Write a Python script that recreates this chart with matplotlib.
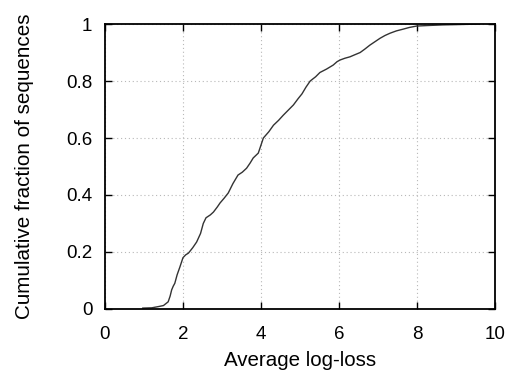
import matplotlib
matplotlib.use("Agg")
import matplotlib.pyplot as plt

plt.rcParams['font.family'] = ['Liberation Sans', 'DejaVu Sans']

loss = [0.97, 1.20, 1.36, 1.50, 1.62, 1.67, 1.71, 1.75, 1.79, 1.85, 1.92, 2.00, 2.07, 2.14, 2.25,
        2.35, 2.45, 2.52, 2.59, 2.70, 2.78, 2.88, 2.95, 3.05, 3.16, 3.28, 3.41, 3.52, 3.63,
        3.72, 3.80, 3.93, 4.06, 4.20, 4.32, 4.45, 4.57, 4.70, 4.83, 4.95, 5.05, 5.15, 5.26,
        5.40, 5.51, 5.68, 5.85, 5.95, 6.03, 6.15, 6.28, 6.40, 6.54, 6.66, 6.79, 6.92, 7.05,
        7.18, 7.31, 7.47, 7.64, 7.80, 7.99, 8.30, 8.67, 9.00, 9.30, 9.60]
frac = [0.003, 0.004, 0.008, 0.012, 0.025, 0.045, 0.067, 0.080, 0.090, 0.120, 0.147, 0.180, 0.190,
        0.196, 0.215, 0.235, 0.265, 0.300, 0.320, 0.330, 0.340, 0.358, 0.372, 0.388, 0.407,
        0.440, 0.470, 0.480, 0.494, 0.512, 0.530, 0.547, 0.600, 0.622, 0.645, 0.662, 0.680,
        0.698, 0.716, 0.738, 0.755, 0.778, 0.800, 0.815, 0.830, 0.842, 0.856, 0.868, 0.874,
        0.880, 0.885, 0.892, 0.900, 0.912, 0.926, 0.938, 0.950, 0.960, 0.968, 0.976, 0.982,
        0.988, 0.993, 0.995, 0.997, 0.998, 0.999, 1.000]

xticks = [0, 2, 4, 6, 8, 10]
yticks = [0, 0.2, 0.4, 0.6, 0.8, 1]
ytick_labels = ['0', '0.2', '0.4', '0.6', '0.8', '1']

fig = plt.figure(figsize=(5.12, 3.7), dpi=100)
ax = fig.add_axes([0.205, 0.165, 0.762, 0.770])

ax.plot(loss, frac, color='#333333', linewidth=1.0)

ax.set_xlim(0, 10)
ax.set_ylim(0, 1)
ax.set_xticks(xticks)
ax.set_xticklabels([str(t) for t in xticks])
ax.set_yticks(yticks)
ax.set_yticklabels(ytick_labels)

ax.grid(True, color='#b8b8b8', linestyle=(0, (1, 2.5)), linewidth=0.8)
ax.tick_params(direction='in', top=True, right=True, length=5, width=1.0,
               labelsize=13.5, colors='black')
ax.tick_params(axis='x', pad=12)
ax.tick_params(axis='y', pad=9)
for s in ax.spines.values():
    s.set_linewidth(1.3)

ax.set_xlabel('Average log-loss', fontsize=14.8, labelpad=6)
ax.set_ylabel('Cumulative fraction of sequences', fontsize=14.9, labelpad=23)

fig.savefig('out.png', dpi=100)
